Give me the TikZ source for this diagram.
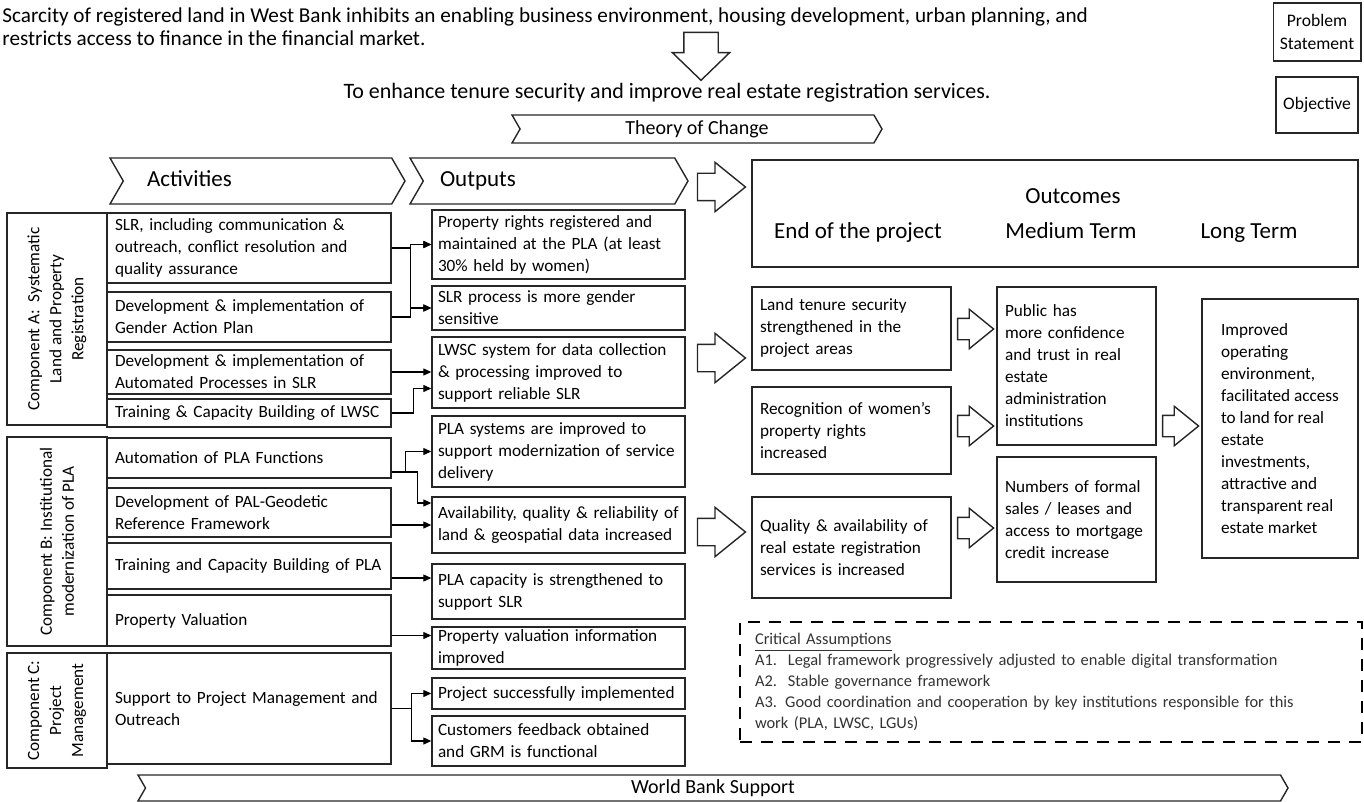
\documentclass[tikz,border=0pt]{standalone}
\usepackage{fontspec}
\setmainfont{Carlito}
\usetikzlibrary{shapes.symbols,shapes.arrows,arrows.meta,calc}
\tikzset{
  box/.style={draw=black!85, line width=0.7pt, align=left, inner ysep=0pt, font=\fontsize{8.6}{11}\selectfont},
  actbox/.style={box, text width=134pt, inner xsep=4pt},
  outbox/.style={box, text width=120.5pt, inner xsep=3pt},
  endbox/.style={box, text width=91.5pt, inner xsep=4pt},
  medbox/.style={box, text width=71.5pt, inner xsep=4pt},
  compbox/.style={box, align=center, rotate=90, minimum height=50pt},
  chev/.style={signal, draw=black!85, line width=0.7pt, signal from=west, signal to=east, signal pointer angle=120, inner sep=0pt},
  blockarr/.style={single arrow, draw=black!85, line width=0.7pt, single arrow tip angle=78, inner sep=0pt},
  bigarr/.style={blockarr, minimum height=24pt, inner ysep=6.5pt, single arrow head extend=5.5pt},
  smallarr/.style={blockarr, minimum height=18pt, inner ysep=5pt, single arrow head extend=4.5pt},
  conn/.style={line width=0.6pt, -{Triangle[length=4pt,width=3.5pt]}},
  hdr/.style={inner sep=0pt, anchor=base, font=\fontsize{11.5}{13}\selectfont}
}
\begin{document}
\begin{tikzpicture}[x=0.5pt,y=-0.5pt]
\useasboundingbox (0,0) rectangle (1364,802);
\node[anchor=north west, align=left, inner sep=0pt, font=\fontsize{10.6}{11.5}\selectfont] (problem) at (2,7) {Scarcity of registered land in West Bank inhibits an enabling business environment, housing development, urban planning, and\\restricts access to finance in the financial market.};
\node[blockarr, shape border rotate=270, minimum height=24pt, inner xsep=8.25pt, single arrow head extend=5.75pt, single arrow tip angle=92] (down) at (701,48) {};
\node[inner sep=0pt, font=\fontsize{11}{12}\selectfont] (objective) at (667,93) {To enhance tenure security and improve real estate registration services.};
\node[box, align=center, minimum width=41pt, minimum height=29pt, font=\fontsize{8.8}{11.5}\selectfont] (problabel) at (1317,32) {Problem\\Statement};
\node[box, align=center, minimum width=41pt, minimum height=28pt, font=\fontsize{8.8}{11.5}\selectfont] (objlabel) at (1317,105) {Objective};
\node[chev, minimum width=185pt, minimum height=14pt, font=\fontsize{10}{12}\selectfont] (toc) at (697,129) {Theory of Change};

\node[chev, minimum width=147.5pt, minimum height=23pt, text width=110.5pt, text height=8pt, text depth=2pt, align=left, font=\fontsize{11.5}{13}\selectfont] (acthdr) at (257.5,181) {Activities};
\node[chev, minimum width=139pt, minimum height=23pt, text width=109pt, text height=8pt, text depth=2pt, align=left, font=\fontsize{11.5}{13}\selectfont] (outhdr) at (549,181) {Outputs};
\node[bigarr] (arrhdr) at (713,187) {};
\node[box, minimum width=303pt, minimum height=53.5pt] (outc) at (1055,213.5) {};
\node[hdr] (outctitle) at (1073,204) {Outcomes};
\node[hdr] (endhdr) at (858,239) {End of the project};
\node[hdr] (medhdr) at (1071,239) {Medium Term};
\node[hdr] (longhdr) at (1249,239) {Long Term};

\node[compbox, minimum width=106pt] (compA) at (57,319) {Component A:~ Systematic\\Land and Property\\Registration};
\node[compbox, minimum width=104.5pt] (compB) at (57,541.5) {Component B: Institutional\\modernization of PLA};
\node[compbox, minimum width=57.5pt] (compC) at (57,710.5) {Component C:\\Project\\Management};

\node[actbox, minimum height=35pt] (act1) at (249,248) {SLR, including communication \&\\outreach, conflict resolution and\\quality assurance};
\node[actbox, minimum height=25pt] (act2) at (249,317) {Development \& implementation of\\Gender Action Plan};
\node[actbox, minimum height=22pt] (act3) at (249,372) {Development \& implementation of\\Automated Processes in SLR};
\node[actbox, minimum height=14pt] (act4) at (249,413) {Training \& Capacity Building of LWSC};
\node[actbox, minimum height=20pt] (act5) at (249,458) {Automation of PLA Functions};
\node[actbox, minimum height=24.5pt] (act6) at (249,512.5) {Development of PAL-Geodetic\\Reference Framework};
\node[actbox, minimum height=23pt] (act7) at (249,566) {Training and Capacity Building of PLA};
\node[actbox, minimum height=25.5pt] (act8) at (249,620.5) {Property Valuation};
\node[actbox, minimum height=55.5pt] (act9) at (249,708.5) {Support to Project Management and\\Outreach};

\node[outbox, minimum height=34.5pt] (out1) at (558.5,244.5) {Property rights registered and\\maintained at the PLA (at least\\30\% held by women)};
\node[outbox, minimum height=22pt] (out2) at (558.5,308) {SLR process is more gender\\sensitive};
\node[outbox, minimum height=35.5pt] (out3) at (558.5,372.5) {LWSC system for data collection\\\& processing improved to\\support reliable SLR};
\node[outbox, minimum height=35.5pt] (out4) at (558.5,451.5) {PLA systems are improved to\\support modernization of service\\delivery};
\node[outbox, minimum height=28pt] (out5) at (558.5,525) {Availability, quality \& reliability of\\land \& geospatial data increased};
\node[outbox, minimum height=27.5pt] (out6) at (558.5,591.5) {PLA capacity is strengthened to\\support SLR};
\node[outbox, minimum height=21pt] (out7) at (558.5,648) {Property valuation information\\improved};
\node[outbox, minimum height=15.5pt] (out8) at (558.5,693.5) {Project successfully implemented};
\node[outbox, minimum height=25pt] (out9) at (558.5,741) {Customers feedback obtained\\and GRM is functional};

\draw[conn] (act1.east) -- ++(19,0) |- (out1.west);
\draw[conn] (act1.east) -- ++(19,0) |- (out2.west);
\draw[conn] (act2.east) -- ++(19,0) |- (out1.west);
\draw[conn] (act2.east) -- ++(19,0) |- (out2.west);
\draw[conn] (act3.east) -- (act3.east -| out3.west);
\draw[conn] (act4.east) -- ++(22,0) |- ($(out3.west)+(0,16)$);
\coordinate (b1out) at ($(act5.east)+(0,14)$);
\draw[conn] (b1out) -- ++(14,0) |- (out4.west);
\draw[conn] (b1out) -- ++(26,0) |- ($(out5.west)+(0,-22)$);
\draw[conn] (act6.east |- out5.west) -- (out5.west);
\draw[conn] ($(act7.east)+(0,12)$) -- ($(act7.east -| out6.west)+(0,12)$);
\draw[conn] ($(act8.east)+(0,15)$) -- ($(act8.east -| out7.west)+(0,15)$);
\draw[conn] (act9.east) -- ++(20,0) |- (out8.west);
\draw[conn] (act9.east) -- ++(20,0) |- (out9.west);

\node[bigarr] (arrout1) at (713,358) {};
\node[bigarr] (arrout2) at (713,532) {};

\node[endbox, minimum height=41.5pt] (end1) at (851.5,328.5) {Land tenure security\\strengthened in the\\project areas};
\node[endbox, minimum height=43.5pt] (end2) at (851.5,430.5) {Recognition of women’s\\property rights\\increased};
\node[endbox, minimum height=50.5pt] (end3) at (851.5,547.5) {Quality \& availability of\\real estate registration\\services is increased};
\node[medbox, minimum height=79pt] (med1) at (1076.5,366) {Public has\\more confidence\\and trust in real\\estate\\administration\\institutions};
\node[medbox, minimum height=62.5pt] (med2) at (1076.5,519.5) {Numbers of formal\\sales / leases and\\access to mortgage\\credit increase};
\node[box, minimum width=78pt, minimum height=129.5pt] (long1) at (1280,428.5) {Improved\\operating\\environment,\\facilitated access\\to land for real\\estate\\investments,\\attractive and\\transparent real\\estate market};

\node[smallarr] (arrend1) at (969,329) {};
\node[smallarr] (arrend2) at (969,426) {};
\node[smallarr] (arrend3) at (969,528) {};
\node[smallarr] (arrmed) at (1174,426) {};

\node[draw, line width=1.4pt, dash pattern=on 6pt off 4.5pt, minimum width=311pt, minimum height=60pt, text width=296pt, inner xsep=7.5pt, align=left, font=\fontsize{8.2}{10.5}\selectfont, text=black!80] (assume) at (1051,682) {\underline{Critical Assumptions}\\A1.\ \ Legal framework progressively adjusted to enable digital transformation\\A2.\ \ Stable governance framework\\A3. Good coordination and cooperation by key institutions responsible for this\\work (PLA, LWSC, LGUs)};

\node[chev, minimum width=575pt, minimum height=13pt, font=\fontsize{10}{12}\selectfont] (wbs) at (713,788) {World Bank Support};
\end{tikzpicture}
\end{document}
